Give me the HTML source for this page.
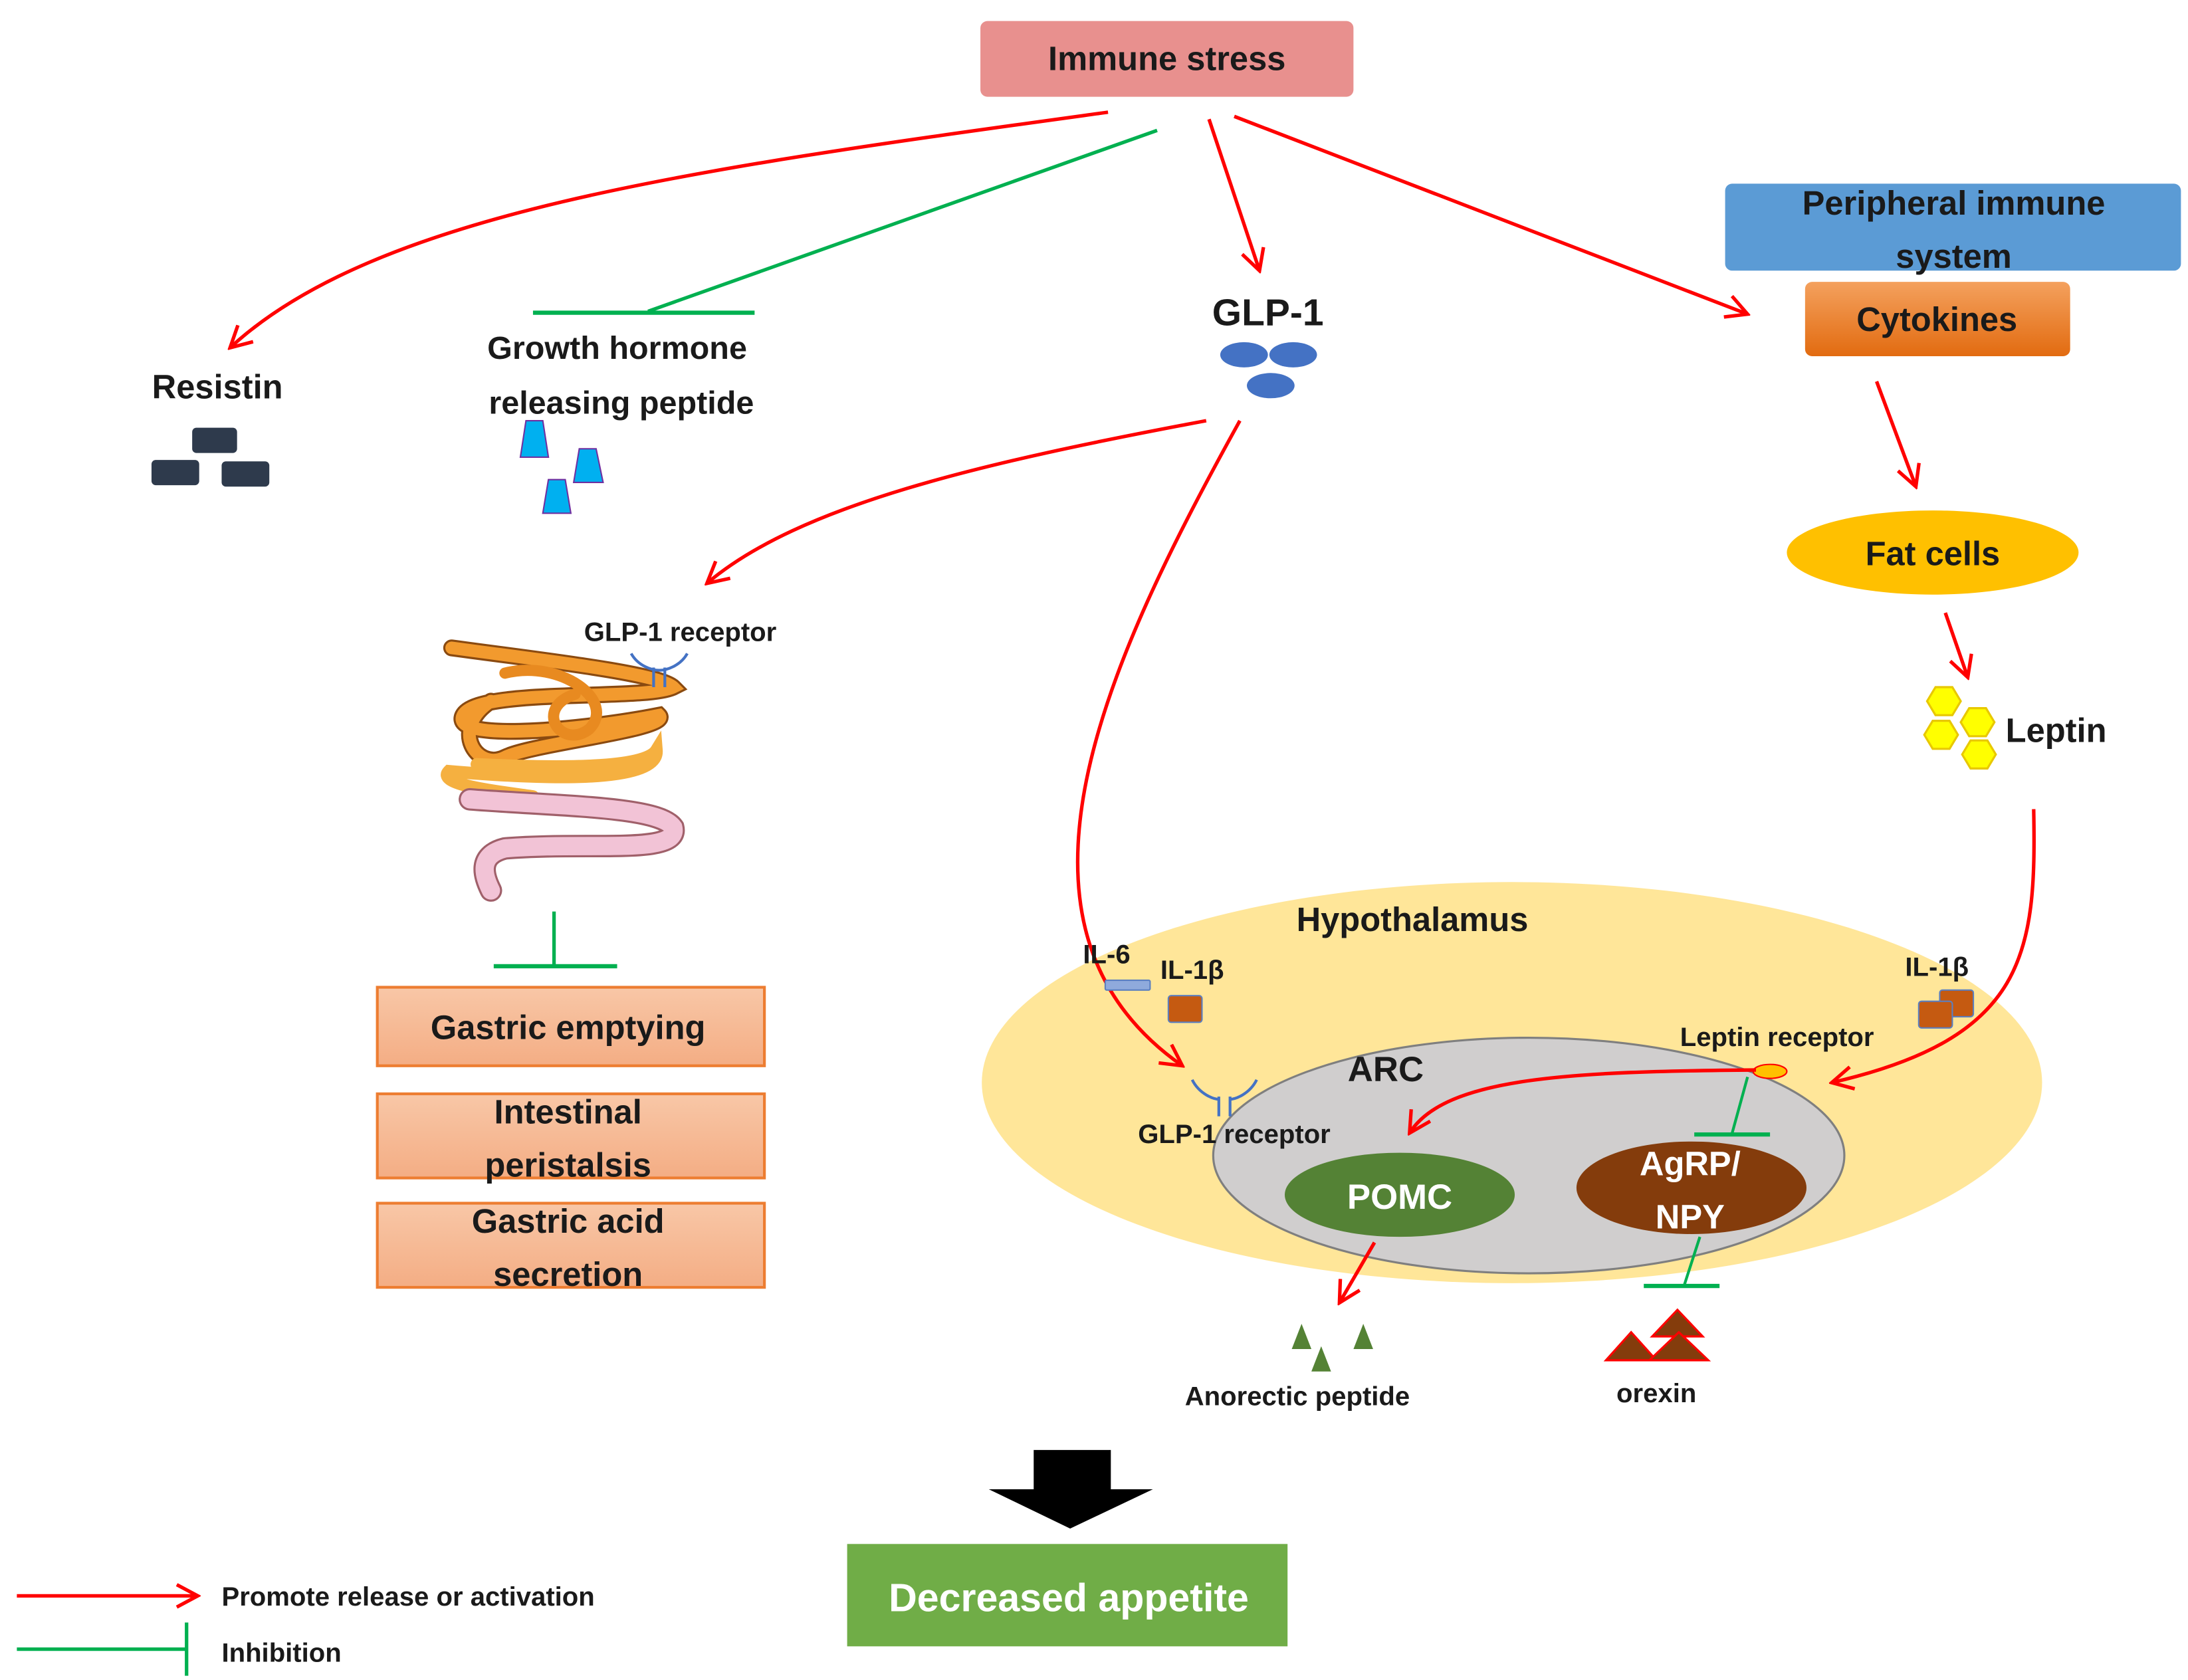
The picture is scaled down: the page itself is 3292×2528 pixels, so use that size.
<!DOCTYPE html>
<html><head><meta charset="utf-8"><style>
html,body{margin:0;padding:0;background:#fff;}
svg{display:block;}
text{font-family:"Liberation Sans Narrow","Liberation Sans",sans-serif;font-weight:bold;fill:#1a1a1a;text-anchor:middle;}
</style></head><body>
<svg width="3292" height="2528" viewBox="0 0 1560 1198" xmlns="http://www.w3.org/2000/svg">
<defs>
<marker id="ar2" markerWidth="18" markerHeight="18" refX="16" refY="9" orient="auto" markerUnits="userSpaceOnUse">
<path d="M1,1 L16,9 L1,17" fill="none" stroke="#f00" stroke-width="2.5"/></marker>
<linearGradient id="og" x1="0" y1="0" x2="0" y2="1"><stop offset="0" stop-color="#f4a15e"/><stop offset="1" stop-color="#e26b10"/></linearGradient>
<linearGradient id="pg" x1="0" y1="0" x2="0" y2="1"><stop offset="0" stop-color="#f8c7a7"/><stop offset="1" stop-color="#f4ad84"/></linearGradient>
</defs>

<!-- Hypothalamus background first -->
<ellipse cx="1078" cy="772" rx="378" ry="143" fill="#ffe699"/>
<ellipse cx="1090" cy="824" rx="225" ry="84" fill="#d0cece" stroke="#7f7f7f" stroke-width="1.5"/>

<!-- Immune stress -->
<rect x="699" y="15" width="266" height="54" rx="5" fill="#e8908e"/>
<text x="832" y="50" font-size="24">Immune stress</text>

<path d="M790,80 C500,120 270,150 164,248" fill="none" stroke="#f00" stroke-width="2.5" marker-end="url(#ar2)"/>
<path d="M825,93 L462,222" stroke="#00b050" stroke-width="2.5"/>
<path d="M380,223 L538,223" stroke="#00b050" stroke-width="3"/>
<path d="M862,85 L898,193" stroke="#f00" stroke-width="2.5" marker-end="url(#ar2)"/>
<path d="M880,83 L1246,224" stroke="#f00" stroke-width="2.5" marker-end="url(#ar2)"/>

<!-- Resistin -->
<text x="155" y="284" font-size="24">Resistin</text>
<rect x="137" y="305" width="32" height="18" rx="3" fill="#2e3a4c"/>
<rect x="108" y="328" width="34" height="18" rx="3" fill="#2e3a4c"/>
<rect x="158" y="329" width="34" height="18" rx="3" fill="#2e3a4c"/>

<!-- GHRP -->
<text x="440" y="256" font-size="23">Growth hormone</text>
<text x="443" y="295" font-size="23">releasing peptide</text>
<polygon points="375,300 387,300 391,326 371,326" fill="#00b0f0" stroke="#7030a0" stroke-width="1"/>
<polygon points="413,320 425,320 430,344 409,344" fill="#00b0f0" stroke="#7030a0" stroke-width="1"/>
<polygon points="391,342 403,342 407,366 387,366" fill="#00b0f0" stroke="#7030a0" stroke-width="1"/>

<!-- GLP-1 -->
<text x="904" y="232" font-size="27">GLP-1</text>
<ellipse cx="887" cy="253" rx="17" ry="9" fill="#4472c4"/>
<ellipse cx="922" cy="253" rx="17" ry="9" fill="#4472c4"/>
<ellipse cx="906" cy="275" rx="17" ry="9" fill="#4472c4"/>
<path d="M860,300 C700,330 570,360 504,416" fill="none" stroke="#f00" stroke-width="2.5" marker-end="url(#ar2)"/>
<path d="M884,300 C790,470 700,660 843,760" fill="none" stroke="#f00" stroke-width="2.5" marker-end="url(#ar2)"/>

<!-- Peripheral immune system -->
<rect x="1230" y="131" width="325" height="62" rx="5" fill="#5b9bd5"/>
<text x="1393" y="153" font-size="24">Peripheral immune</text>
<text x="1393" y="191" font-size="24">system</text>
<rect x="1287" y="201" width="189" height="53" rx="5" fill="url(#og)"/>
<text x="1381" y="236" font-size="24">Cytokines</text>
<path d="M1338,272 L1366,347" stroke="#f00" stroke-width="2.5" marker-end="url(#ar2)"/>
<ellipse cx="1378" cy="394" rx="104" ry="30" fill="#ffc000"/>
<text x="1378" y="403" font-size="24">Fat cells</text>
<path d="M1387,437 L1403,483" stroke="#f00" stroke-width="2.5" marker-end="url(#ar2)"/>
<g fill="#ffff00" stroke="#e8c800" stroke-width="1.5">
<polygon points="1374,500 1380,490 1392,490 1398,500 1392,510 1380,510"/>
<polygon points="1398,515 1404,505 1416,505 1422,515 1416,525 1404,525"/>
<polygon points="1372,524 1378,514 1390,514 1396,524 1390,534 1378,534"/>
<polygon points="1399,538 1405,528 1417,528 1423,538 1417,548 1405,548"/>
</g>
<text x="1466" y="529" font-size="24">Leptin</text>
<path d="M1450,577 C1452,680 1445,740 1306,772" fill="none" stroke="#f00" stroke-width="2.5" marker-end="url(#ar2)"/>

<!-- Gut -->
<text x="485" y="457" font-size="19">GLP-1 receptor</text>
<g fill="none" stroke-linecap="round">
<path d="M322,462 C380,470 470,480 480,490 C460,500 340,490 330,510 C320,530 420,520 470,510 C480,520 380,530 360,540 C340,550 320,520 350,500" stroke="#8a4a10" stroke-width="12"/>
<path d="M322,462 C380,470 470,480 480,490 C460,500 340,490 330,510 C320,530 420,520 470,510 C480,520 380,530 360,540 C340,550 320,520 350,500" stroke="#f29a2e" stroke-width="9"/>
<path d="M360,480 C400,470 440,500 420,520 C400,535 380,505 410,495" stroke="#e88a20" stroke-width="8"/>
<path d="M340,545 C400,548 460,548 468,535 C470,560 380,555 320,550 C310,560 360,565 380,568" stroke="#f5b040" stroke-width="9"/>
<path d="M335,570 C400,575 470,575 480,590 C485,610 420,600 360,605 C340,610 345,625 350,635" stroke="#a0606a" stroke-width="16"/>
<path d="M335,570 C400,575 470,575 480,590 C485,610 420,600 360,605 C340,610 345,625 350,635" stroke="#f2c3d6" stroke-width="13"/>
</g>
<path d="M450,466 C455,475 465,478 470,478 M490,466 C485,475 475,478 470,478 M466,476 L466,490 M474,476 L474,490" fill="none" stroke="#4472c4" stroke-width="2"/>
<path d="M395,650 L395,689" stroke="#00b050" stroke-width="2.5"/>
<path d="M352,689 L440,689" stroke="#00b050" stroke-width="3"/>

<!-- Boxes -->
<rect x="269" y="704" width="276" height="56" fill="url(#pg)" stroke="#ed7d31" stroke-width="2"/>
<text x="405" y="741" font-size="24">Gastric emptying</text>
<rect x="269" y="780" width="276" height="60" fill="url(#pg)" stroke="#ed7d31" stroke-width="2"/>
<text x="405" y="801" font-size="24">Intestinal</text>
<text x="405" y="839" font-size="24">peristalsis</text>
<rect x="269" y="858" width="276" height="60" fill="url(#pg)" stroke="#ed7d31" stroke-width="2"/>
<text x="405" y="879" font-size="24">Gastric acid</text>
<text x="405" y="917" font-size="24">secretion</text>

<!-- Hypothalamus contents -->
<text x="1007" y="664" font-size="24">Hypothalamus</text>
<text x="988" y="771" font-size="25">ARC</text>
<text x="789" y="687" font-size="19">IL-6</text>
<rect x="788" y="699" width="32" height="7" rx="1" fill="#8faadc" stroke="#5b7fc0" stroke-width="1"/>
<text x="850" y="698" font-size="19">IL-1β</text>
<rect x="833" y="710" width="24" height="19" rx="2" fill="#c55a11" stroke="#5b7fc0" stroke-width="1"/>
<text x="1381" y="696" font-size="19">IL-1β</text>
<rect x="1383" y="706" width="24" height="19" rx="2" fill="#c55a11" stroke="#5b7fc0" stroke-width="1"/>
<rect x="1368" y="714" width="24" height="19" rx="2" fill="#c55a11" stroke="#5b7fc0" stroke-width="1"/>
<text x="1267" y="746" font-size="19">Leptin receptor</text>
<ellipse cx="1262" cy="764" rx="12" ry="5" fill="#ffc000" stroke="#f00" stroke-width="1"/>
<path d="M1252,763 C1120,764 1030,768 1005,808" fill="none" stroke="#f00" stroke-width="2.5" marker-end="url(#ar2)"/>
<path d="M1246,768 L1235,808" stroke="#00b050" stroke-width="2"/>
<path d="M1208,809 L1262,809" stroke="#00b050" stroke-width="3"/>
<path d="M850,770 C855,780 865,784 870,784 M896,770 C891,780 881,784 876,784 M869,782 L869,796 M877,782 L877,796" fill="none" stroke="#4472c4" stroke-width="2"/>
<text x="880" y="815" font-size="19">GLP-1 receptor</text>
<ellipse cx="998" cy="852" rx="82" ry="30" fill="#548235"/>
<text x="998" y="862" font-size="25" style="fill:#fff">POMC</text>
<ellipse cx="1206" cy="847" rx="82" ry="33" fill="#843c0c"/>
<text x="1205" y="838" font-size="24" style="fill:#fff">AgRP/</text>
<text x="1205" y="876" font-size="24" style="fill:#fff">NPY</text>
<path d="M980,886 L955,929" stroke="#f00" stroke-width="2.5" marker-end="url(#ar2)"/>
<path d="M1212,882 L1201,916" stroke="#00b050" stroke-width="2"/>
<path d="M1172,917 L1226,917" stroke="#00b050" stroke-width="3"/>
<g fill="#548235">
<polygon points="928,944 935,962 921,962"/><polygon points="942,960 949,978 935,978"/><polygon points="972,944 979,962 965,962"/>
</g>
<g fill="#843c0c" stroke="#f00" stroke-width="1.5">
<polygon points="1196,934 1214,953 1178,953"/>
<polygon points="1163,950 1181,970 1145,970"/>
<polygon points="1197,950 1218,970 1176,970"/>
</g>
<text x="925" y="1002" font-size="19">Anorectic peptide</text>
<text x="1181" y="1000" font-size="19">orexin</text>

<!-- big arrow -->
<polygon points="737,1034 792,1034 792,1062 822,1062 763,1090 705,1062 737,1062" fill="#000"/>
<rect x="604" y="1101" width="314" height="73" fill="#70ad47"/>
<text x="762" y="1149" font-size="28" style="fill:#fff">Decreased appetite</text>

<!-- legend -->
<path d="M12,1138 L141,1138" stroke="#f00" stroke-width="2.5" marker-end="url(#ar2)"/>
<text x="158" y="1145" font-size="19" style="text-anchor:start">Promote release or activation</text>
<path d="M12,1176 L133,1176" stroke="#00b050" stroke-width="2.5"/>
<path d="M133,1157 L133,1195" stroke="#00b050" stroke-width="2.5"/>
<text x="158" y="1185" font-size="19" style="text-anchor:start">Inhibition</text>
</svg>
</body></html>
